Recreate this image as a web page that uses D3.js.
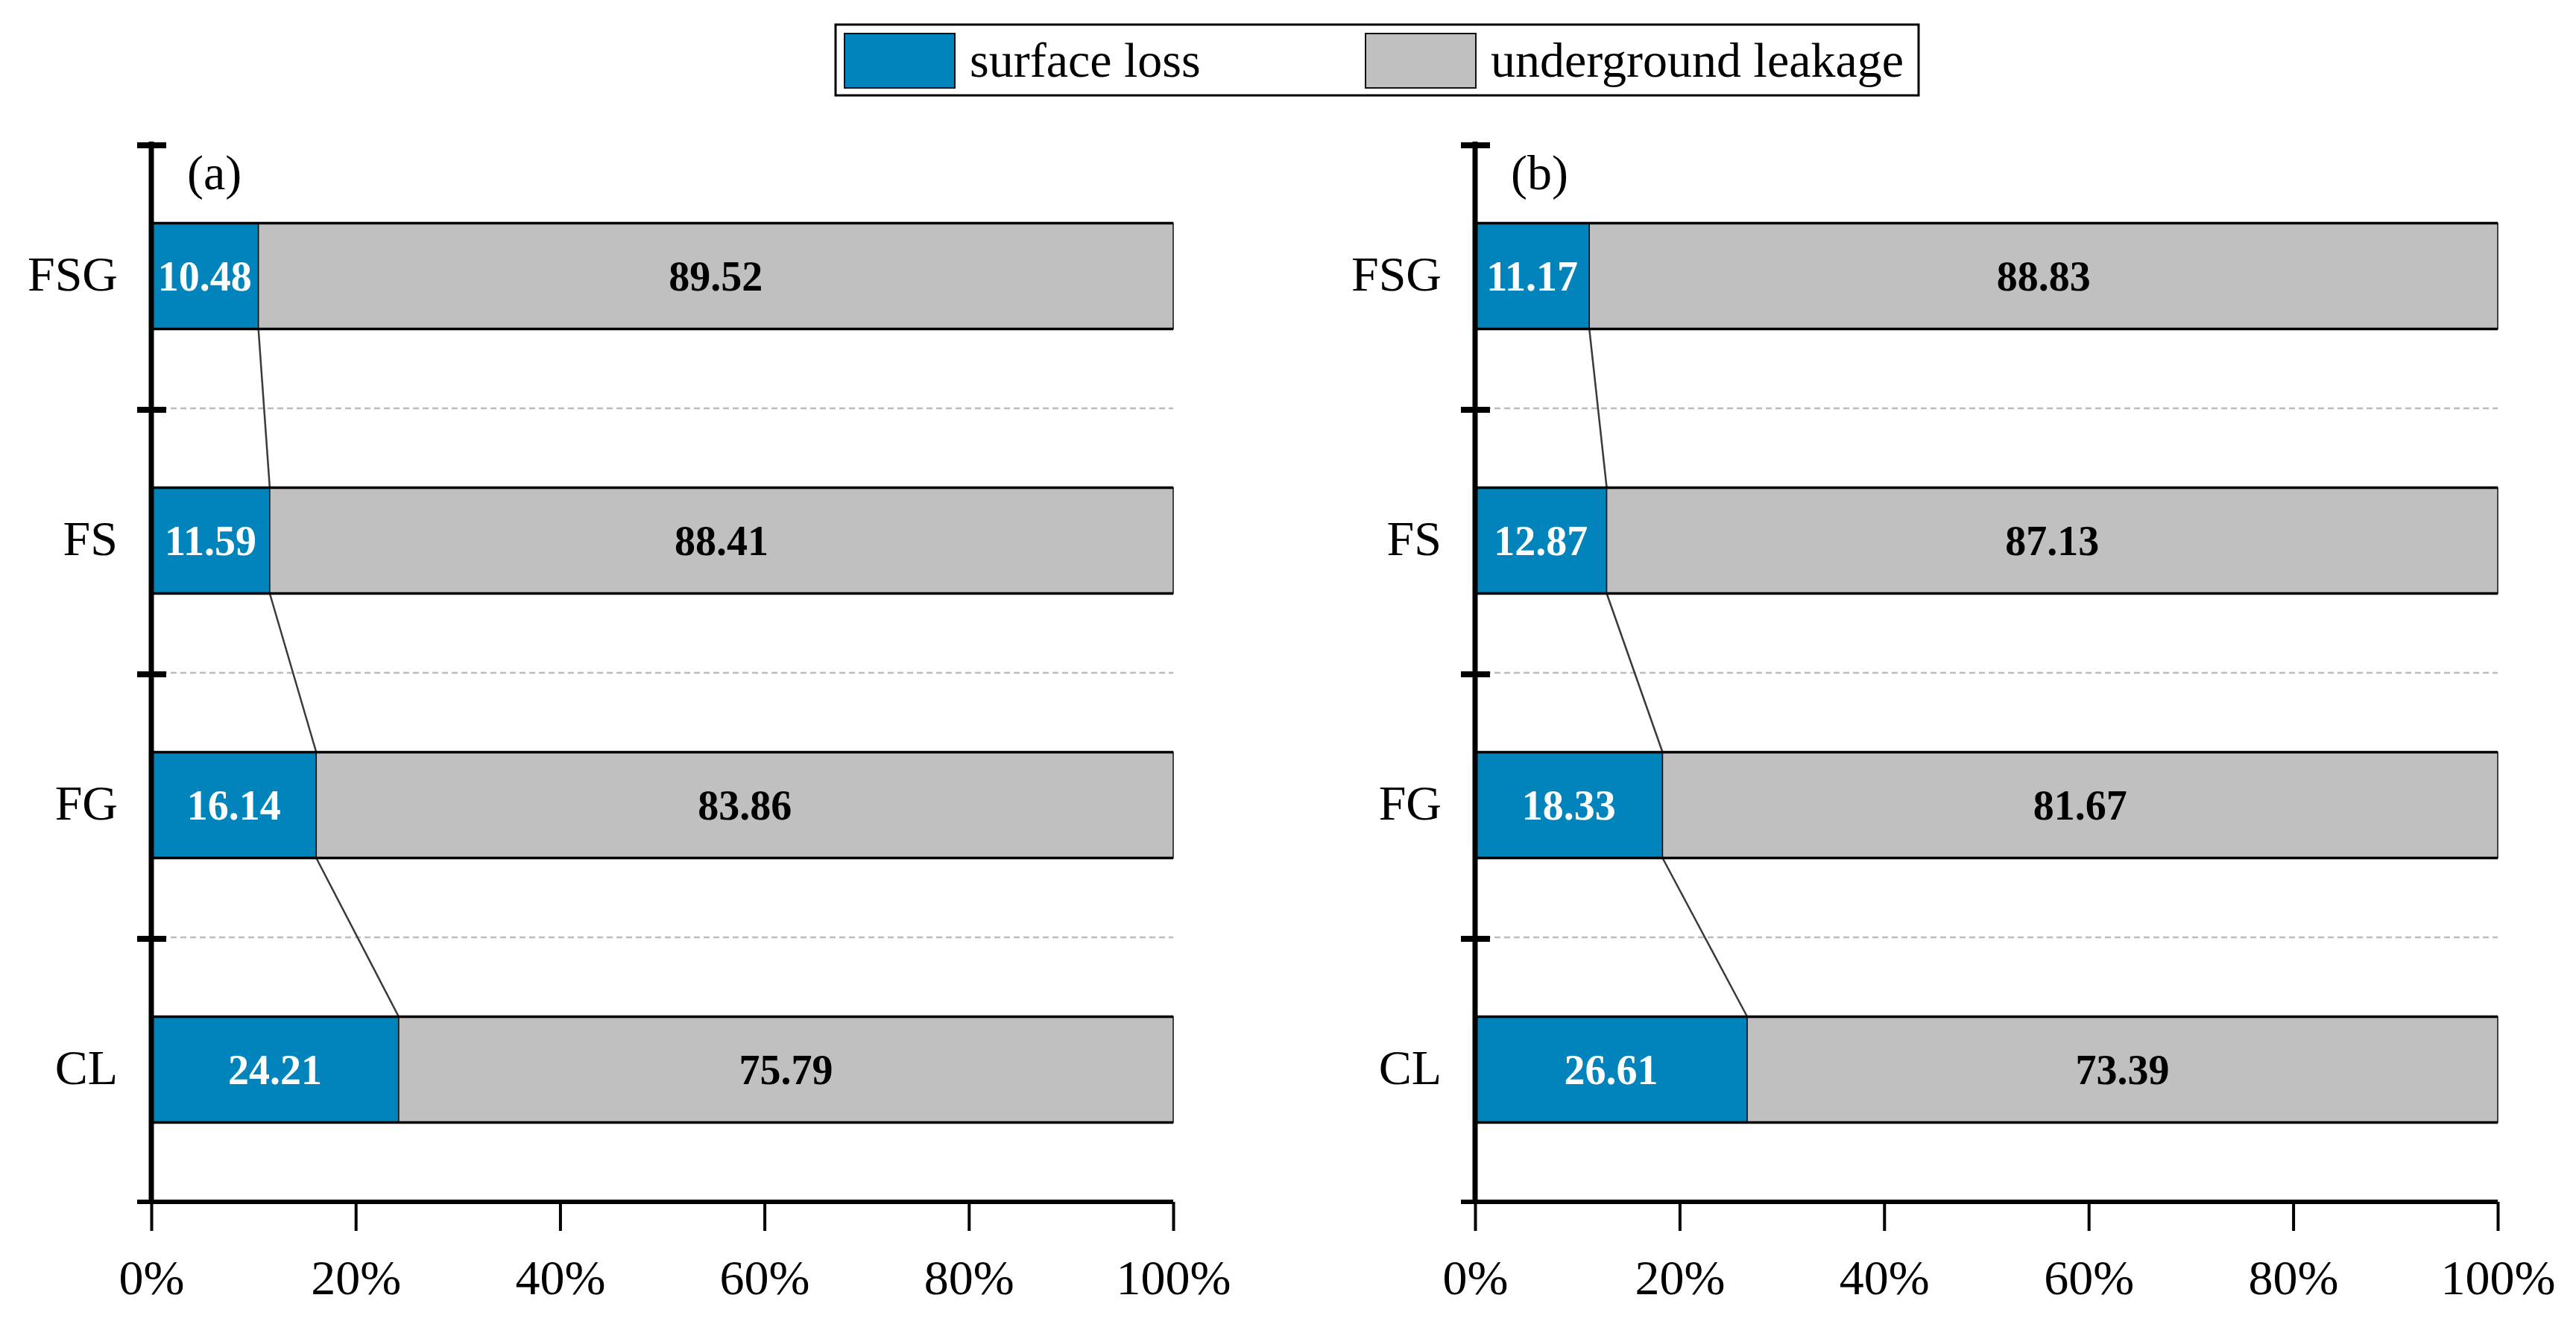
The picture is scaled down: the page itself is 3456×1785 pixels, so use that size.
<!DOCTYPE html>
<html>
<head>
<meta charset="utf-8">
<script src="https://cdn.jsdelivr.net/npm/d3@7"></script>
<style>
  html, body { margin: 0; padding: 0; background: #fff; }
  svg { display: block; font-family: "Liberation Serif", "Times New Roman", serif; }
</style>
</head>
<body>
<svg id="chart" width="3456" height="1785"></svg>
<script>
// Categories top to bottom
const categories = ['FSG', 'FS', 'FG', 'CL'];

// panel (a)
const surfaceA = [10.48, 11.59, 16.14, 24.21];
const leakageA = [89.52, 88.41, 83.86, 75.79];

// panel (b)
const surfaceB = [11.17, 12.87, 18.33, 26.61];
const leakageB = [88.83, 87.13, 81.67, 73.39];

const xTicks = [0, 20, 40, 60, 80, 100];
const seriesNames = ['surface loss', 'underground leakage'];
const panelTags = ['(a)', '(b)'];

const BLUE = '#0084bb';
const GRAY = '#c0c0c0';

const svg = d3.select('#chart');
svg.append('rect').attr('width', 3456).attr('height', 1785).attr('fill', '#fff');

const y = d3.scaleBand()
  .domain(categories)
  .range([193, 1613])
  .paddingInner(0.6)
  .paddingOuter(0.3);

function drawPanel(x0, x1, surface, leakage, tag) {
  const x = d3.scaleLinear().domain([0, 100]).range([x0, x1]);
  const g = svg.append('g');
  const [top, bottom] = y.range();
  const boundaries = d3.range(categories.length + 1).map((i) => top + i * y.step());

  // dashed separators
  g.selectAll('line.grid')
    .data(boundaries.slice(1, -1))
    .join('line')
    .attr('x1', x0).attr('x2', x1)
    .attr('y1', (d) => d).attr('y2', (d) => d)
    .attr('stroke', '#bcbcbc')
    .attr('stroke-width', 2.5)
    .attr('stroke-dasharray', '8,5');

  // connector lines between blue segment ends
  g.selectAll('line.conn')
    .data(categories.slice(0, -1))
    .join('line')
    .attr('x1', (d, i) => x(surface[i]))
    .attr('y1', (d) => y(d) + y.bandwidth())
    .attr('x2', (d, i) => x(surface[i + 1]))
    .attr('y2', (d, i) => y(categories[i + 1]))
    .attr('stroke', '#3a3a3a')
    .attr('stroke-width', 2.5);

  const rows = g.selectAll('g.row')
    .data(categories)
    .join('g')
    .attr('class', 'row');

  rows.append('rect')
    .attr('x', x(0))
    .attr('y', (d) => y(d))
    .attr('width', (d, i) => x(surface[i]) - x(0))
    .attr('height', y.bandwidth())
    .attr('fill', BLUE)
    .attr('stroke', '#111')
    .attr('stroke-width', 1.5);

  rows.append('rect')
    .attr('x', (d, i) => x(surface[i]))
    .attr('y', (d) => y(d))
    .attr('width', (d, i) => x(surface[i] + leakage[i]) - x(surface[i]))
    .attr('height', y.bandwidth())
    .attr('fill', GRAY)
    .attr('stroke', '#111')
    .attr('stroke-width', 1.5);

  // heavier top / bottom edges
  rows.selectAll('line.edge')
    .data((d) => [y(d), y(d) + y.bandwidth()])
    .join('line')
    .attr('x1', x(0)).attr('x2', x(100))
    .attr('y1', (d) => d).attr('y2', (d) => d)
    .attr('stroke', '#000')
    .attr('stroke-width', 3.5);

  rows.append('text')
    .attr('x', (d, i) => (x(0) + x(surface[i])) / 2)
    .attr('y', (d) => y(d) + y.bandwidth() / 2)
    .attr('dy', '0.35em')
    .attr('text-anchor', 'middle')
    .attr('font-size', 56)
    .attr('font-weight', 'bold')
    .attr('fill', '#fff')
    .text((d, i) => surface[i].toFixed(2));

  rows.append('text')
    .attr('x', (d, i) => (x(surface[i]) + x(100)) / 2)
    .attr('y', (d) => y(d) + y.bandwidth() / 2)
    .attr('dy', '0.35em')
    .attr('text-anchor', 'middle')
    .attr('font-size', 56)
    .attr('font-weight', 'bold')
    .attr('fill', '#000')
    .text((d, i) => leakage[i].toFixed(2));

  // category labels
  rows.append('text')
    .attr('x', x0 - 45)
    .attr('y', (d) => y(d) + y.bandwidth() / 2)
    .attr('dy', '0.3em')
    .attr('text-anchor', 'end')
    .attr('font-size', 66)
    .attr('fill', '#000')
    .text((d) => d);

  // x axis
  const xAxis = d3.axisBottom(x)
    .tickValues(xTicks)
    .tickSize(39)
    .tickPadding(38)
    .tickFormat((d) => d + '%');
  const ax = g.append('g')
    .attr('transform', `translate(0,${bottom})`)
    .call(xAxis);
  ax.select('.domain').attr('stroke', '#000').attr('stroke-width', 6)
    .attr('d', `M${x0 - 19},0H${x1}`);
  ax.selectAll('.tick line').attr('stroke', '#000').attr('stroke-width', 4);
  ax.selectAll('.tick text')
    .attr('font-size', 66)
    .attr('font-family', '"Liberation Serif", "Times New Roman", serif')
    .attr('fill', '#000');

  // y axis line and crossing ticks at band boundaries
  g.append('line')
    .attr('x1', x0).attr('x2', x0)
    .attr('y1', top - 3).attr('y2', bottom)
    .attr('stroke', '#000')
    .attr('stroke-width', 7);
  g.selectAll('line.ytick')
    .data(boundaries.slice(0, -1))
    .join('line')
    .attr('x1', x0 - 19).attr('x2', x0 + 20)
    .attr('y1', (d) => d + 2).attr('y2', (d) => d + 2)
    .attr('stroke', '#000')
    .attr('stroke-width', 8);

  g.append('text')
    .attr('x', x0 + 48)
    .attr('y', 254)
    .attr('font-size', 66)
    .attr('fill', '#000')
    .text(tag);
}

drawPanel(203, 1574, surfaceA, leakageA, panelTags[0]);
drawPanel(1979, 3351, surfaceB, leakageB, panelTags[1]);

// legend
const legend = svg.append('g');
legend.append('rect')
  .attr('x', 1121).attr('y', 33)
  .attr('width', 1453).attr('height', 95)
  .attr('fill', '#fff')
  .attr('stroke', '#000')
  .attr('stroke-width', 3);

const legendX = [1133, 1832];
const legendFill = [BLUE, GRAY];
const items = legend.selectAll('g.item')
  .data(seriesNames)
  .join('g')
  .attr('transform', (d, i) => `translate(${legendX[i]},0)`);
items.append('rect')
  .attr('x', 0).attr('y', 45)
  .attr('width', 148).attr('height', 73)
  .attr('fill', (d, i) => legendFill[i])
  .attr('stroke', '#111')
  .attr('stroke-width', 2);
items.append('text')
  .attr('x', 168).attr('y', 103)
  .attr('font-size', 66)
  .attr('fill', '#000')
  .text((d) => d);
</script>
</body>
</html>
